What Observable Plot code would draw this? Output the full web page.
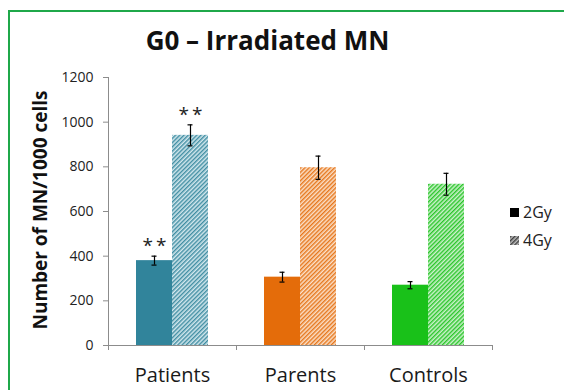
<!DOCTYPE html>
<html><head><meta charset="utf-8">
<script src="https://cdn.jsdelivr.net/npm/d3@7"></script>
<script src="https://cdn.jsdelivr.net/npm/@observablehq/plot@0.6"></script>
<style>
body{margin:0;background:#fff;font-family:"Open Sans",sans-serif;}
#wrap{position:relative;width:564px;height:390px;overflow:hidden;background:#fff;}
#border{position:absolute;left:8px;top:10px;width:620px;height:420px;border-left:2px solid #1fa84a;border-top:2px solid #1fa84a;}
#title{position:absolute;top:22px;left:0;width:535px;text-align:center;font-size:26px;font-weight:700;color:#111;line-height:36px;}
#ylabel{position:absolute;left:40px;top:210px;transform:translate(-50%,-50%) rotate(-90deg);white-space:nowrap;font-size:19px;font-weight:700;color:#111;}
#legend{position:absolute;left:510px;top:198px;font-size:16px;color:#222;}
#legend .row{display:flex;align-items:center;height:28px;}
#legend svg{margin-right:4px;}
#chart{position:absolute;left:0;top:0;}
</style></head>
<body>
<div id="wrap">
  <div id="border"></div>
  <div id="chart"></div>
  <div id="title">G0 – Irradiated MN</div>
  <div id="ylabel">Number of MN/1000 cells</div>
  <div id="legend"></div>
</div>
<script>
const categories = ["Patients", "Parents", "Controls"];
const series = ["2Gy", "4Gy"];
const values2Gy = [380, 306, 270];
const values4Gy = [941, 796, 722];
const errors2Gy = [20, 22, 16];
const errors4Gy = [47, 52, 49];
const significance2Gy = ["**", "", ""];
const significance4Gy = ["**", "", ""];
const yTicks = [0, 200, 400, 600, 800, 1000, 1200];

const palette = {Patients: "#31849b", Parents: "#e46c0a", Controls: "#19c119"};
const tint = {Patients: "#d3e8ee", Parents: "#fbe0c8", Controls: "#cdf2cd"};
const axisGray = "#8c8c8c";

const rows = categories.flatMap((c, i) => [
  {category: c, series: series[0], value: values2Gy[i], error: errors2Gy[i], mark: significance2Gy[i]},
  {category: c, series: series[1], value: values4Gy[i], error: errors4Gy[i], mark: significance4Gy[i]}
]);

const fillOf = d => d.series === series[0] ? palette[d.category] : `url(#hatch-${d.category})`;

const chart = Plot.plot({
  width: 564, height: 390,
  marginLeft: 108, marginRight: 72, marginTop: 77, marginBottom: 45,
  style: {fontFamily: "Open Sans", color: "#222", background: "transparent"},
  fx: {domain: categories, padding: 0, label: null, axis: null},
  x: {domain: series, paddingInner: 0, paddingOuter: 0.753, axis: null},
  y: {domain: [0, 1200], axis: null},
  marks: [
    Plot.axisY({ticks: yTicks, tickFormat: d => String(d), tickSize: 5, tickPadding: 10, fontSize: 14, label: null, stroke: axisGray}),
    Plot.frame({anchor: "left", stroke: axisGray, facetAnchor: "left"}),
    Plot.ruleY([0], {stroke: axisGray}),
    Plot.barY(rows, {fx: "category", x: "series", y: "value", fill: fillOf}),
    Plot.ruleX(rows, {fx: "category", x: "series", y1: d => d.value - d.error, y2: d => d.value + d.error, stroke: "#000", strokeWidth: 1.2}),
    Plot.tickY(rows, {fx: "category", x: "series", y: d => d.value + d.error, insetLeft: 15.5, insetRight: 15.5, stroke: "#000", strokeWidth: 1.2}),
    Plot.tickY(rows, {fx: "category", x: "series", y: d => d.value - d.error, insetLeft: 15.5, insetRight: 15.5, stroke: "#000", strokeWidth: 1.2}),
    Plot.text(rows.filter(d => d.mark), {fx: "category", x: "series", y: d => d.value + d.error, text: d => d.mark.split("").join("\u2009"), lineAnchor: "bottom", dy: -4, fontSize: 19, fill: "#222"}),
    Plot.axisFx({anchor: "bottom", tickSize: 5, dx: -64, tickFormat: () => "", stroke: axisGray, label: null}),
    Plot.axisFx({anchor: "bottom", ticks: [categories[categories.length - 1]], tickSize: 5, dx: 64, tickFormat: () => "", stroke: axisGray, label: null}),
    Plot.axisFx({anchor: "bottom", tickSize: 0, tickPadding: 22, fontSize: 20, label: null, fill: "#1a1a1a"})
  ]
});

const defs = d3.select(chart).insert("defs", ":first-child");
function hatch(sel, id, color, bg) {
  const p = sel.append("pattern").attr("id", id).attr("patternUnits", "userSpaceOnUse")
    .attr("width", 3).attr("height", 3).attr("patternTransform", "rotate(45)");
  p.append("rect").attr("width", 3).attr("height", 3).attr("fill", bg);
  p.append("line").attr("x1", 0.75).attr("y1", 0).attr("x2", 0.75).attr("y2", 3)
    .attr("stroke", color).attr("stroke-width", 1.3);
}
for (const c of categories) hatch(defs, `hatch-${c}`, palette[c], tint[c]);
document.getElementById("chart").appendChild(chart);

// legend
const legend = d3.select("#legend");
series.forEach((s, i) => {
  const row = legend.append("div").attr("class", "row");
  const sw = row.append("svg").attr("width", 9).attr("height", 9);
  if (i === 0) {
    sw.append("rect").attr("width", 9).attr("height", 9).attr("fill", "#000");
  } else {
    hatch(sw.append("defs"), "hatch-legend", "#333", "#bbb");
    sw.append("rect").attr("width", 9).attr("height", 9).attr("fill", "url(#hatch-legend)");
  }
  row.append("span").text(s);
});
</script>
</body></html>
